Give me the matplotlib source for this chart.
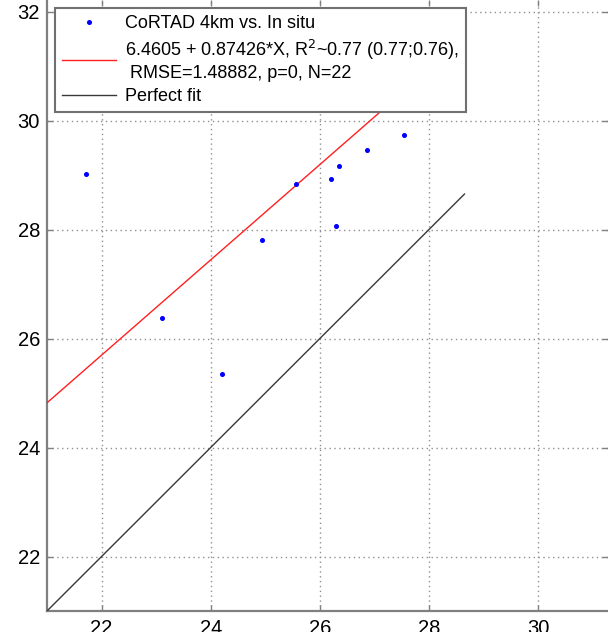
import matplotlib
matplotlib.use("Agg")
import matplotlib.pyplot as plt
import numpy as np

plt.rcParams['font.family'] = ['Liberation Sans', 'DejaVu Sans']

# data
insitu = [21.72, 23.11, 24.21, 24.94, 25.56, 26.21, 26.35, 26.30, 26.87, 27.54]
cortad = [29.01, 26.37, 25.34, 27.80, 28.84, 28.92, 29.17, 28.06, 29.46, 29.74]
fit_intercept = 6.4605
fit_slope = 0.87426
line_x = [21.0, 28.65]
xticks = [22, 24, 26, 28, 30]
yticks = [22, 24, 26, 28, 30, 32]

W, H = 608, 632
fig = plt.figure(figsize=(W / 100, H / 100), dpi=100)
ax = fig.add_axes([47 / W, 21 / H, 561 / W, 611 / H])

lx = np.array(line_x)
ax.plot(insitu, cortad, linestyle='none', marker='o', markersize=2.6,
        color='#0000ff', label='CoRTAD 4km vs. In situ', zorder=4)
ax.plot(lx, fit_intercept + fit_slope * lx, color='#ff2020', linewidth=1.0,
        label='6.4605 + 0.87426*X, R$^2$~0.77 (0.77;0.76),\n RMSE=1.48882, p=0, N=22',
        zorder=3)
ax.plot(lx, lx, color='#383838', linewidth=1.0, label='Perfect fit', zorder=3)

ax.set_xlim(21, 21 + 561 / 54.57)
ax.set_ylim(21, 21 + 611 / 54.5)
ax.set_xticks(xticks)
ax.set_yticks(yticks)
ax.tick_params(direction='in', top=True, right=True, labelsize=14.5,
               color='#808080', length=4, width=1)
ax.tick_params(axis='x', pad=6)
ax.tick_params(axis='y', pad=5)
ax.grid(True, linestyle=(0, (1, 2.5)), color='#909090', linewidth=1.0)
for s in ['top', 'right']:
    ax.spines[s].set_visible(False)
for s in ['left', 'bottom']:
    ax.spines[s].set_color('#808080')
    ax.spines[s].set_linewidth(1.6)

leg = ax.legend(loc='upper left', bbox_to_anchor=((55 - 47) / 561, (611 - 8) / 611),
                borderaxespad=0, fancybox=False, framealpha=1, fontsize=13,
                handlelength=3.0, handletextpad=0.45, borderpad=0.4,
                labelspacing=0.33, edgecolor='#707070')
leg.get_frame().set_linewidth(1.5)
leg.set_zorder(10)

fig.savefig('out.png', dpi=100)
